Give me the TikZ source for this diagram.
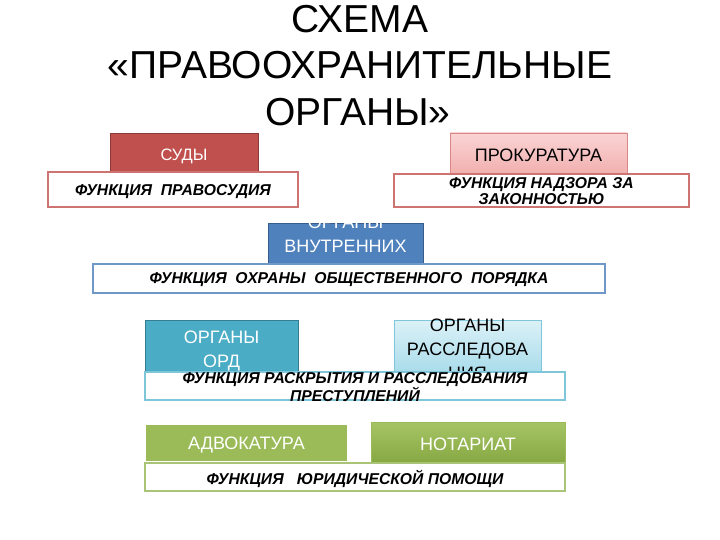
\documentclass[tikz,border=0pt]{standalone}
\usepackage{fontspec}
\setmainfont{Liberation Sans}
\definecolor{redD}{HTML}{C0504D}
\definecolor{redB}{HTML}{8C3836}
\definecolor{pinkT}{HTML}{FAD4D4}
\definecolor{pinkB}{HTML}{F2B0B0}
\definecolor{pinkL}{HTML}{D98784}
\definecolor{blueD}{HTML}{4F81BD}
\definecolor{blueB}{HTML}{385D8A}
\definecolor{blueL}{HTML}{6F97C8}
\definecolor{tealD}{HTML}{4BACC6}
\definecolor{tealB}{HTML}{357D91}
\definecolor{cyanT}{HTML}{DCF1F7}
\definecolor{cyanB}{HTML}{A9DCEB}
\definecolor{cyanL}{HTML}{7FC6DA}
\definecolor{greenD}{HTML}{9BBB59}
\definecolor{greenT}{HTML}{A6C465}
\definecolor{greenBt}{HTML}{86A843}
\definecolor{greenL}{HTML}{A9C476}
\begin{document}
\begin{tikzpicture}[x=1pt,y=-1pt,
  titletext/.style={anchor=base,font=\fontsize{39}{44}\selectfont},
  organ/.style={rectangle,inner sep=0pt},
  otext/.style={inner sep=0pt,align=center,font=\fontsize{18}{24}\selectfont},
  func/.style={rectangle,inner sep=0pt,fill=white,line width=1.2pt},
  ftext/.style={inner sep=0pt,align=center,font=\fontsize{15.7}{16}\selectfont\bfseries\itshape}]
\useasboundingbox (0,0) rectangle (720,540);
% title
\node[titletext] (t1) at (360,33) {СХЕМА};
\node[titletext] (t2) at (360,79) {«ПРАВООХРАНИТЕЛЬНЫЕ};
\node[titletext] (t3) at (358,126) {ОРГАНЫ»};
% organ boxes
\node[organ,fill=redD,draw=redB,minimum width=148pt,minimum height=41pt,
  label={[otext,text=white,font=\fontsize{16.5}{20}\selectfont,yshift=-3pt]center:СУДЫ}] (sud) at (184,153.5) {};
\node[organ,top color=pinkT,bottom color=pinkB,draw=pinkL,
  minimum width=177pt,minimum height=40pt,
  label={[otext,text=black,yshift=-2pt]center:ПРОКУРАТУРА}] (prok) at (538.5,153) {};
\node[organ,fill=blueD,draw=blueB,minimum width=155pt,minimum height=42pt,
  label={[otext,text=white,yshift=-4pt]center:ОРГАНЫ\\ВНУТРЕННИХ\\ДЕЛ}] (ovd) at (345.5,244) {};
\node[organ,fill=tealD,draw=tealB,minimum width=153pt,minimum height=52pt,
  label={[otext,text=white,yshift=-5pt]center:ОРГАНЫ\\ОРД}] (ord) at (221.5,346) {};
\node[organ,top color=cyanT,bottom color=cyanB,draw=cyanL,
  minimum width=147pt,minimum height=52pt,
  label={[otext,text=black,yshift=-3pt]center:ОРГАНЫ\\РАССЛЕДОВА\\НИЯ}] (rassl) at (467.5,346) {};
\node[organ,fill=greenD,draw=white,line width=1.5pt,minimum width=203pt,minimum height=38pt,
  label={[otext,text=white,yshift=-2pt]center:АДВОКАТУРА}] (adv) at (246.5,443) {};
\node[organ,top color=greenT,bottom color=greenBt,draw=greenD,
  minimum width=194pt,minimum height=41pt,
  label={[otext,text=white,yshift=-2pt]center:НОТАРИАТ}] (not) at (468,442.5) {};
% function boxes
\node[func,draw=redD!80,minimum width=250pt,minimum height=35pt,
  label={[ftext,yshift=-2.5pt]center:ФУНКЦИЯ\ \ ПРАВОСУДИЯ}] (fsud) at (173,189.5) {};
\node[func,draw=redD!80,minimum width=295pt,minimum height=33pt,
  label={[ftext,yshift=-0.5pt]center:ФУНКЦИЯ НАДЗОРА ЗА\\ЗАКОННОСТЬЮ}] (fprok) at (541.5,190.5) {};
\node[func,draw=blueL,minimum width=512pt,minimum height=29pt,
  label={[ftext,yshift=-1.5pt]center:ФУНКЦИЯ\ \ ОХРАНЫ\ \ ОБЩЕСТВЕННОГО\ \ ПОРЯДКА}] (fovd) at (349,278.5) {};
\node[func,draw=cyanL,minimum width=420pt,minimum height=28pt,
  label={[ftext,yshift=-1pt]center:ФУНКЦИЯ РАСКРЫТИЯ И РАССЛЕДОВАНИЯ\\ПРЕСТУПЛЕНИЙ}] (fras) at (355,386) {};
\node[func,draw=greenL,minimum width=420pt,minimum height=28pt,
  label={[ftext,yshift=-2pt]center:ФУНКЦИЯ\ \ \ ЮРИДИЧЕСКОЙ ПОМОЩИ}] (fpom) at (355,477) {};
\end{tikzpicture}
\end{document}
